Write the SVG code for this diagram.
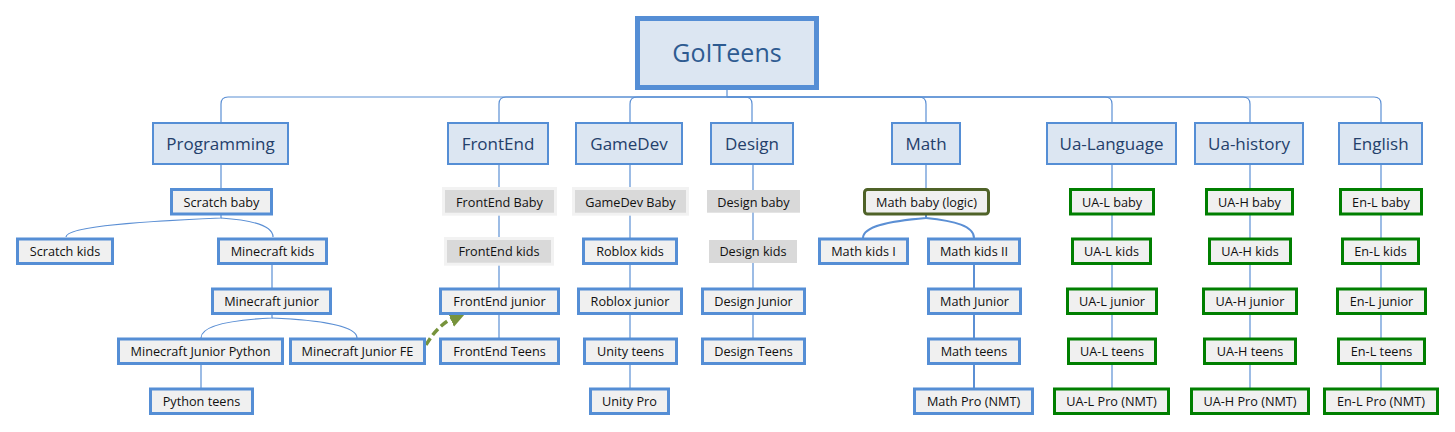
<svg xmlns="http://www.w3.org/2000/svg" width="1455" height="432" viewBox="0 0 1455 432">
<defs>
<style>
text{font-family:"Open Sans","Noto Sans","DejaVu Sans",sans-serif;text-anchor:middle}
.hdr rect{fill:#dce6f2;stroke:#558ed5;stroke-width:2}
.hdr text{font-size:17px;fill:#24406b}
.root rect{fill:#dce6f2;stroke:#558ed5;stroke-width:5}
.root text{font-size:25px;fill:#2e5b91}
.leaf rect{fill:#f0f0f0;stroke:#558ed5;stroke-width:3}
.green rect{stroke:#007f00}
.logic rect{stroke:#4f6228}
.greyb rect{fill:#d9d9d9;stroke:#f2f2f2}
.grey rect{fill:#d9d9d9;stroke:none}
.leaf text{font-size:12.7px;fill:#111}
.conn path{fill:none;stroke:#5b8fd4;stroke-width:1.2}
.conn .thick{stroke-width:2}
</style>
<marker id="arr" viewBox="0 0 10 10" refX="4" refY="5" markerWidth="5" markerHeight="5" orient="auto-start-reverse">
<path d="M0,0 L10,5 L0,10 z" fill="#77933c"/>
</marker>
</defs>

<g id="connectors" class="conn">
<!-- root bus -->
<path d="M727,90 V97"/>
<path d="M727,97 H228 Q221,97 221,104 V122"/>
<path d="M727,97 H506 Q499,97 499,104 V122"/>
<path d="M727,97 H637 Q630,97 630,104 V122"/>
<path d="M727,97 H745 Q752,97 752,104 V122"/>
<path d="M727,97 H919 Q926,97 926,104 V122"/>
<path d="M727,97 H1105 Q1112,97 1112,104 V122"/>
<path d="M727,97 H1243 Q1250,97 1250,104 V122"/>
<path d="M727,97 H1374 Q1381,97 1381,104 V122"/>
<!-- Programming -->
<path d="M221,165 V188"/>
<path d="M221,215 V218 C150,221 66,226 66,237"/>
<path d="M221,218 C250,220 273,225 273,237"/>
<path d="M272,265 V288"/>
<path d="M272,315 V318 C230,320 201,326 201,338"/>
<path d="M272,318 C320,320 357,326 357,338"/>
<path d="M201,365 V388"/>
<!-- columns -->
<path d="M499,165 V338"/>
<path d="M630,165 V388"/>
<path d="M753,165 V338"/>
<path d="M926,165 V188"/>
<path class="thick" d="M926,215 V218 C890,221 863,226 863,238"/>
<path class="thick" d="M926,218 C955,221 974,226 974,238"/>
<path class="thick" d="M974,265 V388"/>
<path d="M1112,165 V388"/>
<path d="M1250,165 V388"/>
<path d="M1381,165 V388"/>
<!-- dashed relation -->
<path d="M426,345 Q438,324 457,316" style="stroke:#77933c;stroke-width:3.5;stroke-dasharray:8,4" marker-end="url(#arr)"/>
</g>

<g id="root" class="root"><rect x="637.5" y="18.5" width="179" height="69"/><text x="727" y="62">GoITeens</text></g>

<g id="programming" class="hdr"><rect x="153" y="123" width="135" height="41"/><text x="220.5" y="149.5">Programming</text></g>
<g id="frontend" class="hdr"><rect x="448" y="123" width="100" height="41"/><text x="498" y="149.5">FrontEnd</text></g>
<g id="gamedev" class="hdr"><rect x="576" y="123" width="106" height="41"/><text x="629" y="149.5">GameDev</text></g>
<g id="design" class="hdr"><rect x="711" y="123" width="82" height="41"/><text x="752" y="149.5">Design</text></g>
<g id="math" class="hdr"><rect x="892" y="123" width="68" height="41"/><text x="926" y="149.5">Math</text></g>
<g id="ua-language" class="hdr"><rect x="1047" y="123" width="129" height="41"/><text x="1111.5" y="149.5">Ua-Language</text></g>
<g id="ua-history" class="hdr"><rect x="1195" y="123" width="108" height="41"/><text x="1249" y="149.5">Ua-history</text></g>
<g id="english" class="hdr"><rect x="1339" y="123" width="83" height="41"/><text x="1380.5" y="149.5">English</text></g>

<!-- Programming column -->
<g id="scratch-baby" class="leaf"><rect x="171.5" y="189.5" width="100" height="24.5"/><text x="221.5" y="206.5">Scratch baby</text></g>
<g id="scratch-kids" class="leaf"><rect x="17.5" y="239" width="95" height="24.5"/><text x="65" y="256">Scratch kids</text></g>
<g id="minecraft-kids" class="leaf"><rect x="218.5" y="239" width="108" height="24.5"/><text x="272.5" y="256">Minecraft kids</text></g>
<g id="minecraft-junior" class="leaf"><rect x="212.5" y="289" width="118" height="24.5"/><text x="271.5" y="306">Minecraft junior</text></g>
<g id="minecraft-junior-python" class="leaf"><rect x="118.5" y="339" width="164" height="24.5"/><text x="200.5" y="356">Minecraft Junior Python</text></g>
<g id="minecraft-junior-fe" class="leaf"><rect x="290.5" y="339" width="134" height="24.5"/><text x="357.5" y="356">Minecraft Junior FE</text></g>
<g id="python-teens" class="leaf"><rect x="150.5" y="389" width="102" height="24.5"/><text x="201.5" y="406">Python teens</text></g>

<!-- FrontEnd column -->
<g id="frontend-baby" class="leaf greyb"><rect x="443.5" y="188.5" width="112" height="25.7"/><text x="499.5" y="206.5">FrontEnd Baby</text></g>
<g id="frontend-kids" class="leaf greyb"><rect x="445.5" y="238.5" width="107" height="25.7"/><text x="499" y="256">FrontEnd kids</text></g>
<g id="frontend-junior" class="leaf"><rect x="440.5" y="289" width="118" height="24.5"/><text x="499.5" y="306">FrontEnd junior</text></g>
<g id="frontend-teens" class="leaf"><rect x="440.5" y="339" width="118" height="24.5"/><text x="499.5" y="356">FrontEnd Teens</text></g>

<!-- GameDev column -->
<g id="gamedev-baby" class="leaf greyb"><rect x="573.5" y="188.5" width="114" height="25.7"/><text x="630.5" y="206.5">GameDev Baby</text></g>
<g id="roblox-kids" class="leaf"><rect x="583.5" y="239" width="93" height="24.5"/><text x="630" y="256">Roblox kids</text></g>
<g id="roblox-junior" class="leaf"><rect x="578.5" y="289" width="103" height="24.5"/><text x="630" y="306">Roblox junior</text></g>
<g id="unity-teens" class="leaf"><rect x="584.5" y="339" width="92" height="24.5"/><text x="630.5" y="356">Unity teens</text></g>
<g id="unity-pro" class="leaf"><rect x="590.5" y="389" width="78" height="24.5"/><text x="629.5" y="406">Unity Pro</text></g>

<!-- Design column -->
<g id="design-baby" class="leaf grey"><rect x="707" y="190" width="93" height="22.7"/><text x="753.5" y="206.5">Design baby</text></g>
<g id="design-kids" class="leaf grey"><rect x="709" y="240" width="88" height="23"/><text x="753" y="256">Design kids</text></g>
<g id="design-junior" class="leaf"><rect x="702.5" y="289" width="102" height="24.5"/><text x="753.5" y="306">Design Junior</text></g>
<g id="design-teens" class="leaf"><rect x="702.5" y="339" width="102" height="24.5"/><text x="753.5" y="356">Design Teens</text></g>

<!-- Math column -->
<g id="math-baby" class="leaf logic"><rect x="864.5" y="189.5" width="124" height="24.5" rx="3"/><text x="926.5" y="206.5">Math baby (logic)</text></g>
<g id="math-kids-1" class="leaf"><rect x="819.5" y="239" width="88" height="24.5"/><text x="863.5" y="256">Math kids I</text></g>
<g id="math-kids-2" class="leaf"><rect x="928.5" y="239" width="91" height="24.5"/><text x="974" y="256">Math kids II</text></g>
<g id="math-junior" class="leaf"><rect x="928.5" y="289" width="92" height="24.5"/><text x="974.5" y="306">Math Junior</text></g>
<g id="math-teens" class="leaf"><rect x="928.5" y="339" width="91" height="24.5"/><text x="974" y="356">Math teens</text></g>
<g id="math-pro" class="leaf"><rect x="914.5" y="389" width="118" height="24.5"/><text x="973.5" y="406">Math Pro (NMT)</text></g>

<!-- Ua-Language column -->
<g id="ual-baby" class="leaf green"><rect x="1070.5" y="189.5" width="83" height="24.5"/><text x="1112" y="206.5">UA-L baby</text></g>
<g id="ual-kids" class="leaf green"><rect x="1072.5" y="239" width="78" height="24.5"/><text x="1111.5" y="256">UA-L kids</text></g>
<g id="ual-junior" class="leaf green"><rect x="1067.5" y="289" width="89" height="24.5"/><text x="1112" y="306">UA-L junior</text></g>
<g id="ual-teens" class="leaf green"><rect x="1068.5" y="339" width="87" height="24.5"/><text x="1112" y="356">UA-L teens</text></g>
<g id="ual-pro" class="leaf green"><rect x="1054.5" y="389" width="114" height="24.5"/><text x="1111.5" y="406">UA-L Pro (NMT)</text></g>

<!-- Ua-history column -->
<g id="uah-baby" class="leaf green"><rect x="1206.5" y="189.5" width="86" height="24.5"/><text x="1249.5" y="206.5">UA-H baby</text></g>
<g id="uah-kids" class="leaf green"><rect x="1209.5" y="239" width="81" height="24.5"/><text x="1250" y="256">UA-H kids</text></g>
<g id="uah-junior" class="leaf green"><rect x="1203.5" y="289" width="93" height="24.5"/><text x="1250" y="306">UA-H junior</text></g>
<g id="uah-teens" class="leaf green"><rect x="1204.5" y="339" width="91" height="24.5"/><text x="1250" y="356">UA-H teens</text></g>
<g id="uah-pro" class="leaf green"><rect x="1191.5" y="389" width="117" height="24.5"/><text x="1250" y="406">UA-H Pro (NMT)</text></g>

<!-- English column -->
<g id="enl-baby" class="leaf green"><rect x="1340.5" y="189.5" width="81" height="24.5"/><text x="1381" y="206.5">En-L baby</text></g>
<g id="enl-kids" class="leaf green"><rect x="1342.5" y="239" width="76" height="24.5"/><text x="1380.5" y="256">En-L kids</text></g>
<g id="enl-junior" class="leaf green"><rect x="1337.5" y="289" width="88" height="24.5"/><text x="1381.5" y="306">En-L junior</text></g>
<g id="enl-teens" class="leaf green"><rect x="1338.5" y="339" width="86" height="24.5"/><text x="1381.5" y="356">En-L teens</text></g>
<g id="enl-pro" class="leaf green"><rect x="1324.5" y="389" width="113" height="24.5"/><text x="1381" y="406">En-L Pro (NMT)</text></g>
</svg>
